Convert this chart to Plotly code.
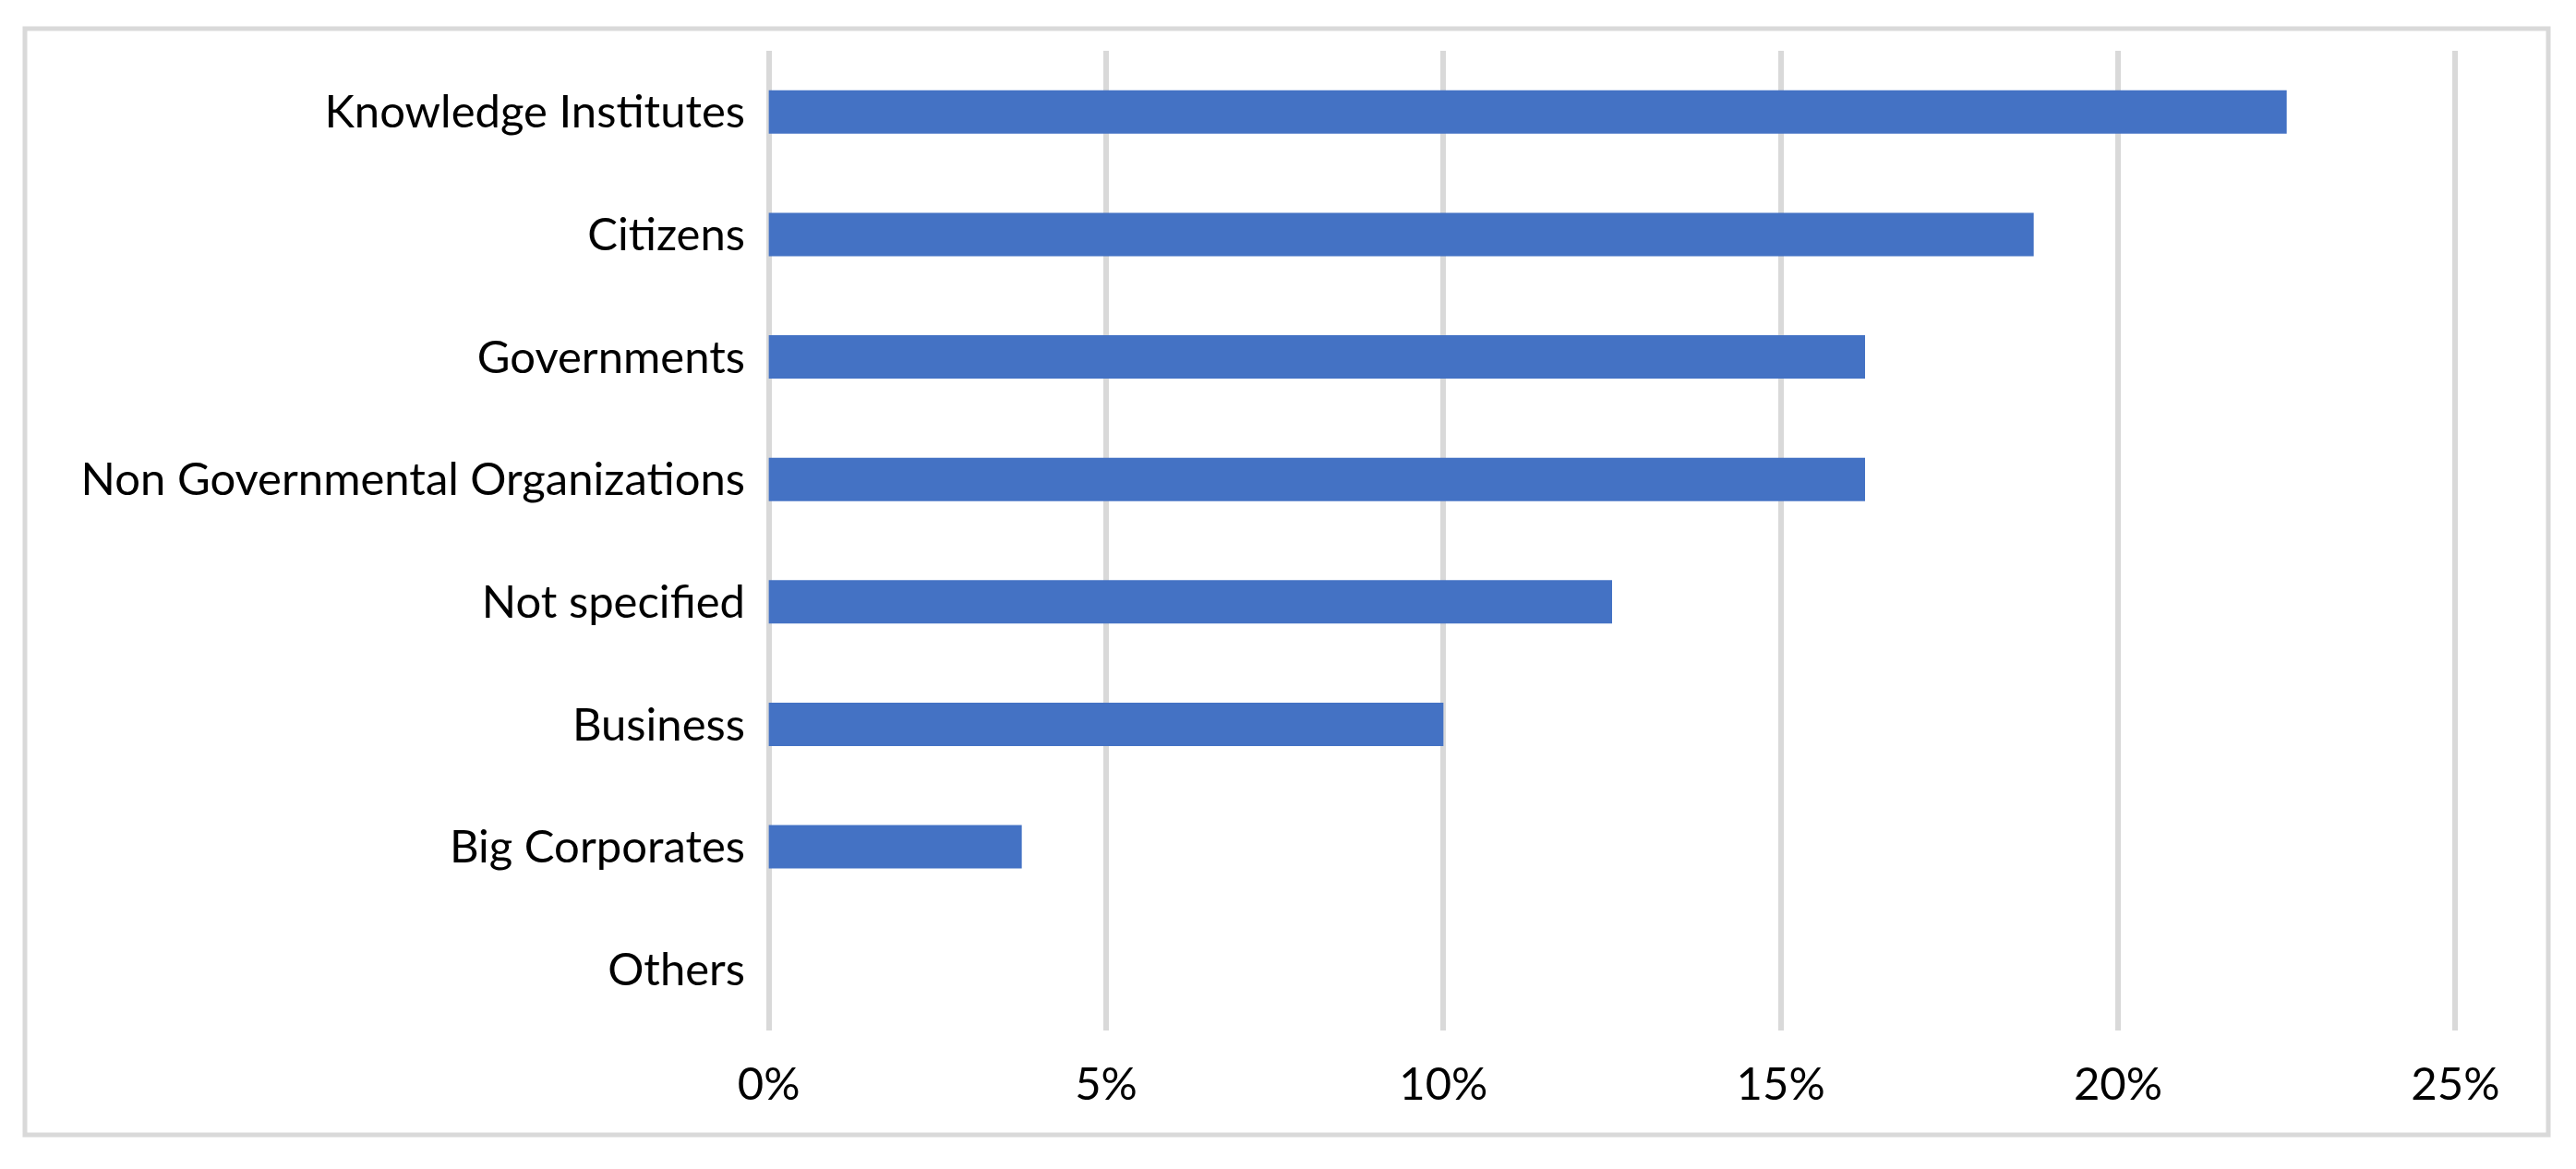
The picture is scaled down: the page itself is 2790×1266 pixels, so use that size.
import plotly.graph_objects as go

# audience groups, top to bottom as in the chart
categories = [
    "Knowledge Institutes",
    "Citizens",
    "Governments",
    "Non Governmental Organizations",
    "Not specified",
    "Business",
    "Big Corporates",
    "Others",
]
shares = [22.5, 18.75, 16.25, 16.25, 12.5, 10.0, 3.75, 0.0]  # percent
x_ticks = [0, 5, 10, 15, 20, 25]
x_tick_labels = [f"{v}%" for v in x_ticks]

fig = go.Figure()

fig.add_trace(go.Bar(
    x=shares,
    y=categories,
    orientation="h",
    marker=dict(color="#4472C4", line=dict(width=0)),
    hoverinfo="x+y",
))

# page body has the browser's 8px margin, so the figure is a bit smaller
fig.update_layout(
    width=2782,
    height=1258,
    margin=dict(l=821, r=127, t=47, b=150),
    paper_bgcolor="white",
    plot_bgcolor="white",
    bargap=0.646,
    showlegend=False,
    font=dict(family="Lato, Carlito, Calibri, sans-serif", size=49, color="#000000"),
    xaxis=dict(
        # a hair wider than 0-25 so the edge gridlines are drawn
        range=[-0.05, 25.05],
        tickvals=x_ticks,
        ticktext=x_tick_labels,
        showgrid=True,
        gridcolor="#d9d9d9",
        gridwidth=6,
        zeroline=False,
        showline=False,
        ticks="",
        ticklabelstandoff=25,
    ),
    yaxis=dict(
        autorange="reversed",
        showgrid=False,
        zeroline=False,
        showline=False,
        ticks="",
        ticklabelstandoff=21,
    ),
    # light grey frame round the whole chart
    shapes=[dict(
        type="rect", xref="paper", yref="paper",
        x0=-0.4373, x1=1.0529, y0=-0.1065, y1=1.0226,
        line=dict(color="#d9d9d9", width=5),
        fillcolor="rgba(0,0,0,0)",
        layer="below",
    )],
)

fig.write_html("out.html")
